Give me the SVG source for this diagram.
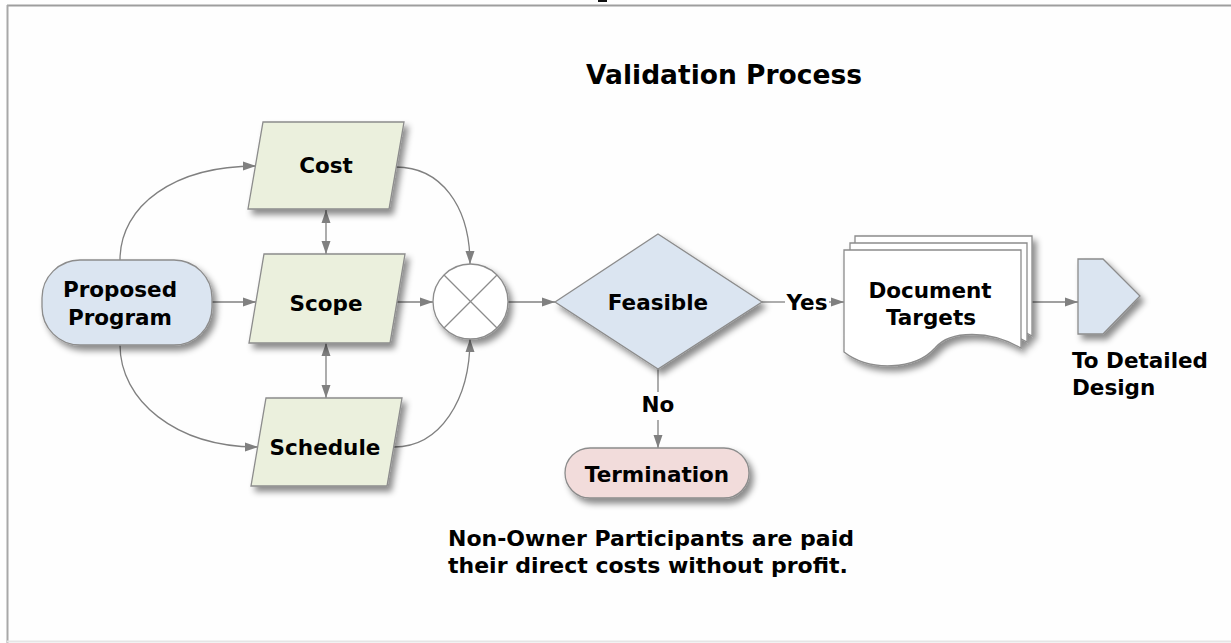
<svg xmlns="http://www.w3.org/2000/svg" width="1231" height="643" viewBox="0 0 1231 643">
<defs>
<style>
.lbl{font-family:"DejaVu Sans","Verdana",sans-serif;font-weight:bold;font-size:21.5px;fill:#000;text-anchor:middle}
.lft{text-anchor:start}
.node{stroke:#8c8c8c;stroke-width:1.3}
.para{fill:#ebf0dd}
.blue{fill:#dbe5f1}
.pink{fill:#f2dcdb}
.white{fill:#ffffff}
.con{fill:none;stroke:#808080;stroke-width:1.3}
</style>
<filter id="sh" x="-20%" y="-20%" width="150%" height="150%">
<feDropShadow dx="4" dy="5" stdDeviation="3" flood-color="#000" flood-opacity="0.45"/>
</filter>
<marker id="ar" markerUnits="userSpaceOnUse" markerWidth="14" markerHeight="10" refX="13" refY="5" orient="auto-start-reverse">
<path d="M0,0.5 L13,5 L0,9.5 z" fill="#808080"/>
</marker>
</defs>
<rect width="1231" height="643" fill="#fefefe"/>
<rect x="598" y="0" width="9" height="2" fill="#111"/>
<line x1="7" y1="5.5" x2="1231" y2="5.5" stroke="#9e9e9e" stroke-width="2"/>
<line x1="7.5" y1="5" x2="7.5" y2="643" stroke="#a8a8a8" stroke-width="2"/>
<line x1="7" y1="641.5" x2="1231" y2="641.5" stroke="#e6e6e6" stroke-width="2"/>

<text class="lbl" x="724" y="84" style="font-size:26.5px">Validation Process</text>

<g id="connectors">
<path class="con" d="M120,260 C120,205 175,166 256,166" marker-end="url(#ar)"/>
<path class="con" d="M120,345 C120,400 175,447 258,447" marker-end="url(#ar)"/>
<path class="con" d="M212,302 L256,302" marker-end="url(#ar)"/>
<path class="con" d="M326,210 L326,254" marker-start="url(#ar)" marker-end="url(#ar)"/>
<path class="con" d="M326,343 L326,398" marker-start="url(#ar)" marker-end="url(#ar)"/>
<path class="con" d="M396,302 L433,302" marker-end="url(#ar)"/>
<path class="con" d="M396,167 C440,167 470,205 470,264" marker-end="url(#ar)"/>
<path class="con" d="M394,447 C440,447 470,400 470,339" marker-end="url(#ar)"/>
<path class="con" d="M508,302 L555,302" marker-end="url(#ar)"/>
<path class="con" d="M762,302 L785,302"/>
<path class="con" d="M829,302 L844,302" marker-end="url(#ar)"/>
<path class="con" d="M1032,302 L1078,302" marker-end="url(#ar)"/>
<path class="con" d="M658,369 L658,392"/>
<path class="con" d="M658,420 L658,448" marker-end="url(#ar)"/>
<text class="lbl" x="807" y="310">Yes</text>
<text class="lbl" x="658" y="412">No</text>
</g>

<g id="proposed">
<rect class="node blue" x="42" y="260" width="170" height="85" rx="38" filter="url(#sh)"/>
<text class="lbl" x="120" y="297">Proposed</text>
<text class="lbl" x="120" y="325">Program</text>
</g>

<g id="cost">
<polygon class="node para" points="263,122 404,122 389,209 248,209" filter="url(#sh)"/>
<text class="lbl" x="326" y="173">Cost</text>
</g>

<g id="scope">
<polygon class="node para" points="264,254 405,254 390,343 249,343" filter="url(#sh)"/>
<text class="lbl" x="326" y="311">Scope</text>
</g>

<g id="schedule">
<polygon class="node para" points="266,398 402,398 387,486 251,486" filter="url(#sh)"/>
<text class="lbl" x="325" y="455">Schedule</text>
</g>

<g id="junction">
<circle class="node white" cx="470.5" cy="301.5" r="37.5" filter="url(#sh)"/>
<line x1="444" y1="275" x2="497" y2="328" stroke="#8c8c8c" stroke-width="1.2"/>
<line x1="497" y1="275" x2="444" y2="328" stroke="#8c8c8c" stroke-width="1.2"/>
</g>

<g id="feasible">
<polygon class="node blue" points="555,302 658,234 762,302 658,369" filter="url(#sh)"/>
<text class="lbl" x="658" y="310">Feasible</text>
</g>

<g id="termination">
<rect class="node pink" x="565" y="448" width="184" height="50" rx="25" filter="url(#sh)"/>
<text class="lbl" x="657" y="482">Termination</text>
</g>

<g id="document">
<g filter="url(#sh)">
<path class="node white" d="M855,236 H1032 V336 C1001,318 961,318 946,336 C926,358 881,360 855,340 Z"/>
<path class="node white" d="M850,243 H1027 V342 C996,324 956,324 941,342 C921,364 876,366 850,346 Z"/>
<path class="node white" d="M844,250 H1021 V348 C990,330 950,330 935,348 C915,370 870,372 844,352 Z"/>
</g>
<text class="lbl" x="930" y="298">Document</text>
<text class="lbl" x="931" y="325">Targets</text>
</g>

<g id="offpage">
<polygon class="node blue" points="1078,259 1103,259 1140,296 1103,334 1078,334" filter="url(#sh)"/>
<text class="lbl lft" x="1072" y="368">To Detailed</text>
<text class="lbl lft" x="1072" y="395">Design</text>
</g>

<g id="note">
<text class="lbl lft" x="448" y="546" style="font-size:22px">Non-Owner Participants are paid</text>
<text class="lbl lft" x="448" y="573" style="font-size:22px">their direct costs without profit.</text>
</g>
</svg>
